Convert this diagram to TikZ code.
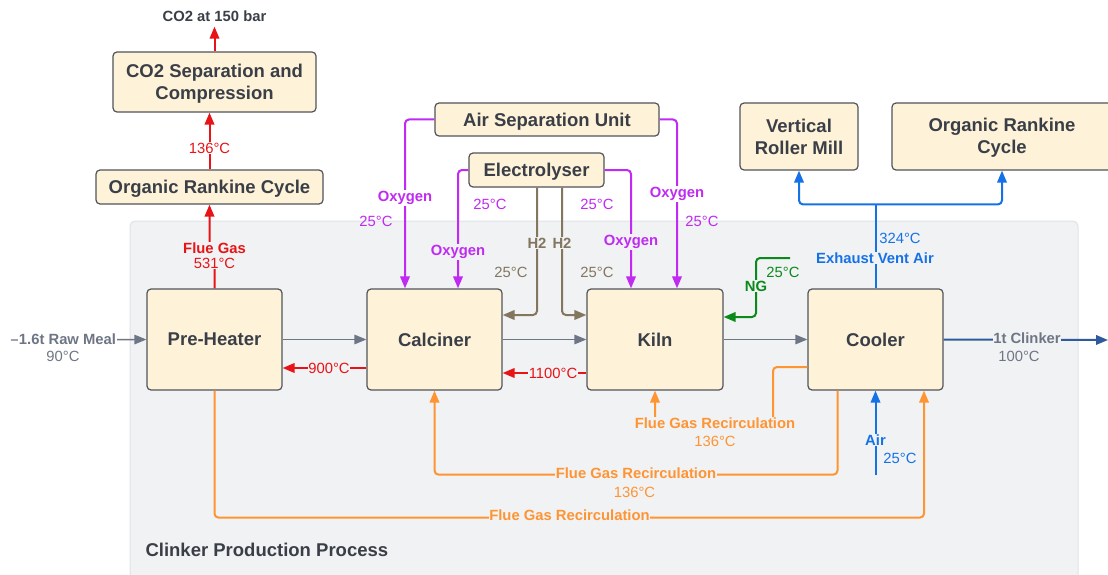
\documentclass[tikz,border=0pt]{standalone}
\usepackage{fontspec}
\setmainfont{Liberation Sans}
\usetikzlibrary{arrows.meta,calc}
\definecolor{boxfill}{HTML}{FEF2D9}
\definecolor{boxdraw}{HTML}{50545B}
\definecolor{textdark}{HTML}{3A3F47}
\definecolor{grpfill}{HTML}{F1F2F4}
\definecolor{grpdraw}{HTML}{E0E3E7}
\definecolor{cred}{HTML}{E81316}
\definecolor{cpurp}{HTML}{C02AF2}
\definecolor{cbrown}{HTML}{83765F}
\definecolor{cgreen}{HTML}{0B8A1C}
\definecolor{cblue}{HTML}{1572E6}
\definecolor{corange}{HTML}{FF9433}
\definecolor{cgray}{HTML}{6E7685}
\definecolor{cnavy}{HTML}{2F5A9C}
\newcommand{\boxfont}{\fontsize{18.5}{22}\selectfont\bfseries}
\newcommand{\lblfont}{\fontsize{14.8}{17}\selectfont\bfseries}
\newcommand{\tmpfont}{\fontsize{14.8}{17}\selectfont}
\tikzset{
  box/.style={draw=boxdraw, fill=boxfill, rounded corners=4pt, line width=1.2pt,
    font=\boxfont, text=textdark, align=center, inner sep=0pt},
  lowtext/.style={text depth=-2pt},
  arr/.style={-{Triangle[length=12pt,width=9.5pt]}},
  conn/.style={line width=2pt, rounded corners=4pt},
  thin/.style={line width=1.4pt, rounded corners=4pt},
  lbl/.style={font=\lblfont, inner sep=1pt, align=center},
  tmp/.style={font=\tmpfont, inner sep=1pt, align=center},
  ong/.style={fill=grpfill},
  onw/.style={fill=white},
}
\begin{document}
\begin{tikzpicture}[x=1pt,y=-1pt]
\useasboundingbox (0,0) rectangle (1108,575);
\fill[white] (0,0) rectangle (1108,575);
% group background
\draw[fill=grpfill, draw=grpdraw, line width=1pt, rounded corners=5pt] (130,221) rectangle (1078,590);
\node[anchor=west, font=\fontsize{18.5}{22}\selectfont\bfseries, text=textdark] (grp) at (142,550) {Clinker Production Process};

% nodes
\node[box, lowtext, minimum width=203pt, minimum height=60pt] (co2) at (214.5,82) {CO2 Separation and\\Compression};
\node[box, lowtext, minimum width=227pt, minimum height=34pt] (orcL) at (209.5,187) {Organic Rankine Cycle};
\node[box, lowtext, minimum width=224pt, minimum height=33pt] (asu) at (547,119.5) {Air Separation Unit};
\node[box, lowtext, minimum width=135pt, minimum height=34pt] (ely) at (536.5,170) {Electrolyser};
\node[box, minimum width=118pt, minimum height=67pt] (vrm) at (799,136.5) {Vertical\\Roller Mill};
\node[box, text depth=1pt, minimum width=220pt, minimum height=67pt] (orcR) at (1002,136.5) {Organic Rankine\\Cycle};
\node[box, minimum width=135pt, minimum height=101pt] (ph) at (214.5,339.5) {Pre-Heater};
\node[box, minimum width=135pt, minimum height=101pt] (calc) at (434.5,339.5) {Calciner};
\node[box, minimum width=136pt, minimum height=101pt] (kiln) at (655,339.5) {Kiln};
\node[box, minimum width=135pt, minimum height=101pt] (cool) at (875.5,339.5) {Cooler};

% free-end coordinates
\coordinate (rawin) at (11,340);
\coordinate (clkout) at (1108,340);
\coordinate (ngin) at (790,258);
\coordinate (airin) at (875.5,475);
\node[font=\fontsize{14.8}{17}\selectfont\bfseries, text=textdark, inner sep=0pt] (co2t) at (214.5,16) {CO2 at 150 bar};

% red flue gas
\draw[cred, conn, arr] (ph.north) -- ++(0,-40) -| (orcL.south);
\node[lbl, text=cred, ong] at (214.5,255.5) {Flue Gas\\[-2pt]\mdseries 531°C};
\draw[cred, conn, arr] (orcL.north) -- (orcL.north |- co2.south);
\node[tmp, text=cred, onw] at (209.5,148) {136°C};
\draw[cred, conn, arr, shorten >=5pt] (co2.north) -- (co2t.south);

% red returns
\draw[cred, conn, arr] ([yshift=-28.5pt]calc.west) -- ([yshift=-28.5pt]ph.east);
\node[tmp, text=cred, ong, inner sep=0.5pt] at (329,368) {900°C};
\draw[cred, conn, arr] ([yshift=-33.5pt]kiln.west) -- ([yshift=-33.5pt]calc.east);
\node[tmp, text=cred, ong, inner sep=0.5pt] at (553,373) {1100°C};

% main gray flow
\draw[cgray, thin, arr] (rawin) -- (ph.west);
\node[lbl, text=cgray, onw, inner sep=0.5pt] at (67.5,339) {1.6t Raw Meal};
\node[tmp, text=cgray] at (63,356) {90°C};
\draw[cgray, thin, arr] (ph.east) -- (calc.west);
\draw[cgray, thin, arr] (calc.east) -- (kiln.west);
\draw[cgray, thin, arr] (kiln.east) -- (cool.west);
\draw[cnavy, conn, arr] (cool.east) -- (clkout);
\node[lbl, text=cgray, ong, inner sep=0.5pt] at (1027,338) {1t Clinker};
\node[tmp, text=cgray] at (1019,356) {100°C};

% purple oxygen
\draw[cpurp, conn, arr] (asu.west) -| ([xshift=-29.5pt]calc.north);
\node[lbl, text=cpurp, onw] at (405,198) {Oxygen};
\node[tmp, text=cpurp] at (376,221) {25°C};
\draw[cpurp, conn, arr] (ely.west) -| ([xshift=23.5pt]calc.north);
\node[lbl, text=cpurp, ong] at (458,252) {Oxygen};
\node[tmp, text=cpurp] at (490,204) {25°C};
\draw[cpurp, conn, arr] (asu.east) -| ([xshift=22pt]kiln.north);
\node[lbl, text=cpurp, onw] at (677,194) {Oxygen};
\node[tmp, text=cpurp] at (702,221) {25°C};
\draw[cpurp, conn, arr] (ely.east) -| ([xshift=-24pt]kiln.north);
\node[lbl, text=cpurp, ong] at (631,242) {Oxygen};
\node[tmp, text=cpurp] at (597,204) {25°C};

% brown hydrogen
\draw[cbrown, conn, arr] ([xshift=0.5pt]ely.south) |- ([yshift=24.5pt]calc.east);
\node[lbl, text=cbrown, ong] at (537,243) {H2};
\node[tmp, text=cbrown] at (511,272) {25°C};
\draw[cbrown, conn, arr] ([xshift=25.5pt]ely.south) |- ([yshift=24.5pt]kiln.west);
\node[lbl, text=cbrown, ong] at (562,243) {H2};
\node[tmp, text=cbrown] at (597,272) {25°C};

% green NG
\draw[cgreen, conn, arr] (ngin) -- ++(-34,0) |- ([yshift=22.5pt]kiln.east);
\node[lbl, text=cgreen, ong] at (756,286) {NG};
\node[tmp, text=cgreen] at (783,272) {25°C};

% blue exhaust
\draw[cblue, conn] (cool.north) -- ++(0,-84) coordinate (split);
\draw[cblue, conn, arr] (split) -| (vrm.south);
\draw[cblue, conn, arr] (split) -| (orcR.south);
\node[tmp, text=cblue] at (900,238) {324°C};
\node[lbl, text=cblue, ong] at (875,258) {Exhaust Vent Air};

% blue air
\draw[cblue, conn, arr] (airin) -- (cool.south);
\node[lbl, text=cblue, ong] at (875.5,440) {Air};
\node[tmp, text=cblue] at (900,458) {25°C};

% orange recirculation
\draw[corange, conn, arr] ([yshift=-27.5pt]cool.west) -| (773,423) -| (kiln.south);
\node[lbl, text=corange, ong] at (715,423) {Flue Gas Recirculation};
\node[tmp, text=corange] at (715,441) {136°C};
\draw[corange, conn, arr] ([xshift=-38pt]cool.south) -- ++(0,84) -| (calc.south);
\node[lbl, text=corange, ong, inner sep=0.5pt] at (636,473) {Flue Gas Recirculation};
\node[tmp, text=corange] at (634.5,492) {136°C};
\draw[corange, conn, arr] (ph.south) -- ++(0,127) -| ([xshift=48.5pt]cool.south);
\node[lbl, text=corange, ong, inner sep=0.5pt] at (569.5,515) {Flue Gas Recirculation};
\end{tikzpicture}
\end{document}
